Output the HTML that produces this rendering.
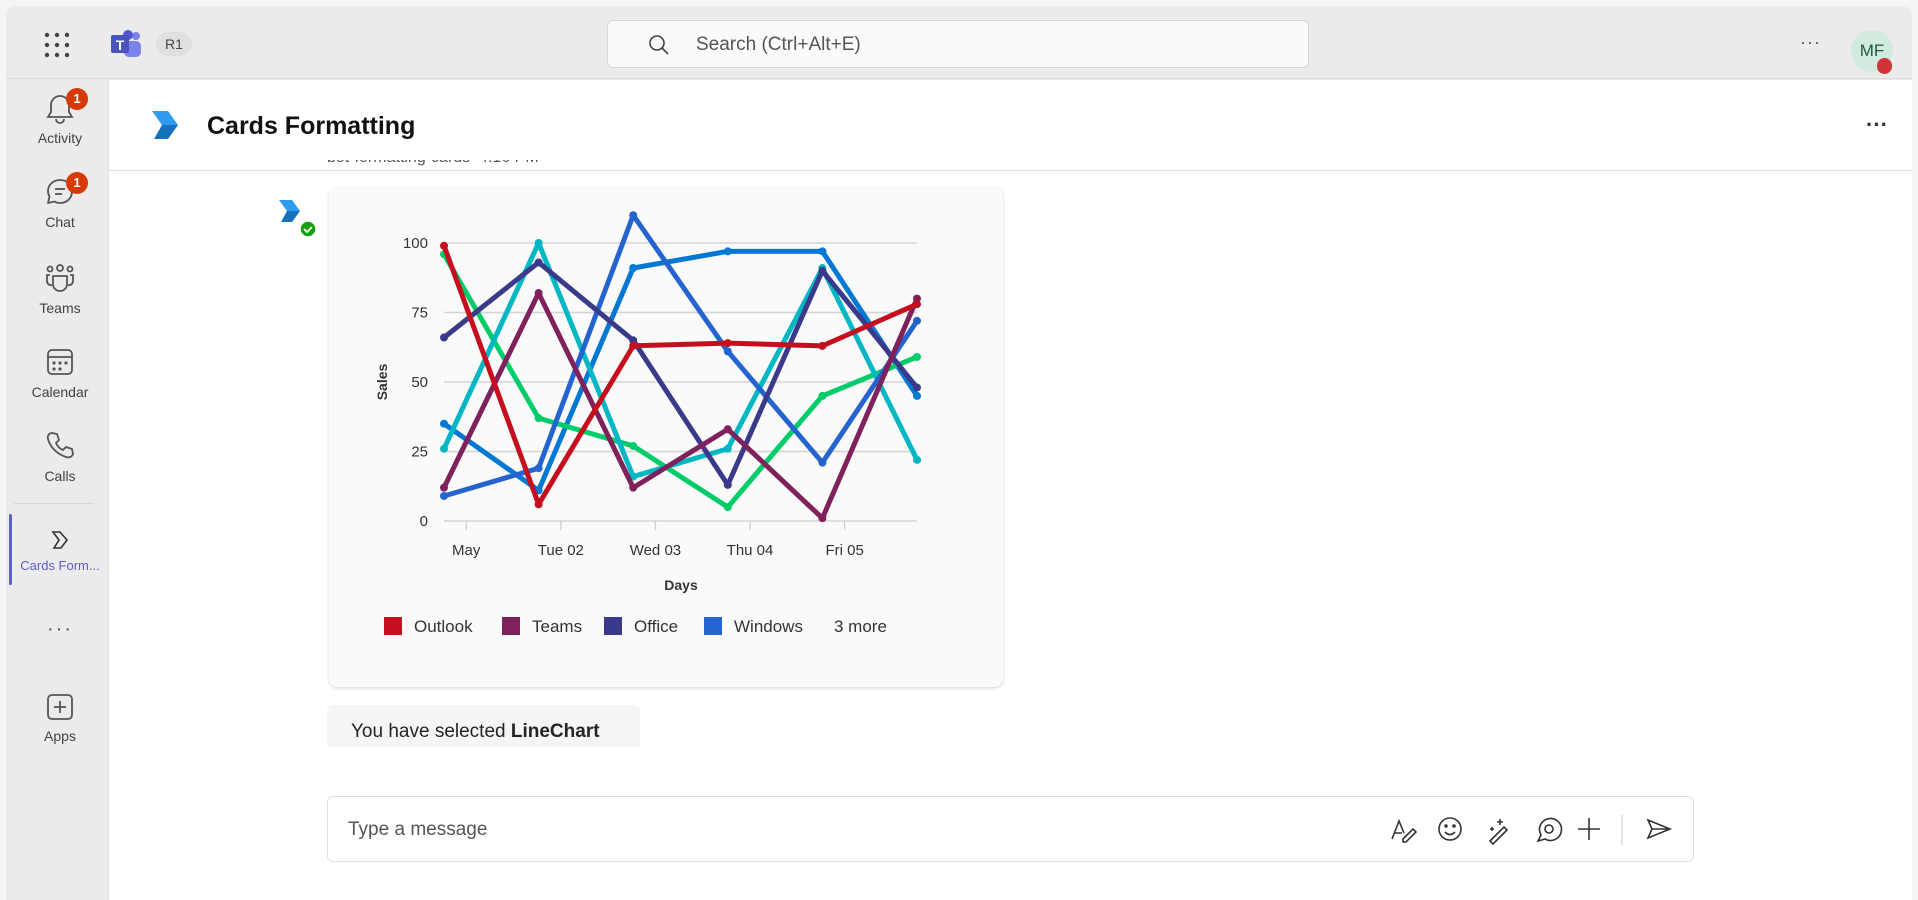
<!DOCTYPE html>
<html><head><meta charset="utf-8">
<style>
*{box-sizing:border-box;margin:0;padding:0}
body{width:1918px;height:900px;background:#f5f5f5;font-family:"Liberation Sans",sans-serif;position:relative;overflow:hidden;color:#242424}
.abs{position:absolute}
.rail-item{position:absolute;left:0;width:108px;text-align:center;font-size:14px;color:#424242}
.rail-item svg{display:block;margin:0 auto 6px}
.badge{position:absolute;left:60px;top:-4px;width:22px;height:22px;border-radius:11px;background:#d83b01;color:#fff;font-size:13px;font-weight:bold;line-height:22px;text-align:center}
</style></head><body>
<div class="abs" style="left:6px;top:6px;width:1906px;height:894px;background:#ebebeb;border-radius:10px 10px 0 0"></div>
<div class="abs" style="left:6px;top:6px;width:1906px;height:73px;border-bottom:1px solid #dcdcdc"></div>
<div class="abs" style="left:44px;top:32px;width:26px;height:26px">
<svg width="26" height="26"><g fill="#444"><circle cx="3" cy="3" r="2.2"/><circle cx="13" cy="3" r="2.2"/><circle cx="23" cy="3" r="2.2"/><circle cx="3" cy="13" r="2.2"/><circle cx="13" cy="13" r="2.2"/><circle cx="23" cy="13" r="2.2"/><circle cx="3" cy="23" r="2.2"/><circle cx="13" cy="23" r="2.2"/><circle cx="23" cy="23" r="2.2"/></g></svg></div>
<div class="abs" style="left:110px;top:30px;width:32px;height:30px">
<svg width="32" height="30"><circle cx="26" cy="6" r="4" fill="#7b83eb"/><rect x="14" y="11" width="17" height="16" rx="5" fill="#7b83eb"/><circle cx="18" cy="5" r="5" fill="#5059c9"/><rect x="1" y="5" width="18" height="18" rx="2" fill="#4b53bc"/><text x="10" y="20" fill="#fff" font-size="14" font-weight="bold" text-anchor="middle" font-family="Liberation Sans">T</text></svg></div>
<div class="abs" style="left:156px;top:32px;width:36px;height:24px;border-radius:12px;background:#e0e0e0;font-size:14px;line-height:24px;text-align:center;color:#424242">R1</div>
<div class="abs" style="left:607px;top:20px;width:702px;height:48px;background:#fafafa;border:1px solid #d6d6d6;border-radius:6px">
<svg class="abs" style="left:40px;top:13px" width="22" height="22"><circle cx="9" cy="9" r="7" fill="none" stroke="#424242" stroke-width="1.6"/><line x1="14" y1="14" x2="20" y2="20" stroke="#424242" stroke-width="1.6"/></svg>
<span class="abs" style="left:88px;top:13px;font-size:19px;color:#555">Search (Ctrl+Alt+E)</span></div>
<div class="abs" style="left:1800px;top:32px;font-size:18px;color:#555;letter-spacing:1px">···</div>
<div class="abs" style="left:1851px;top:30px;width:42px;height:42px;border-radius:21px;background:#d1ecdf;color:#1e5a3c;font-size:17px;line-height:42px;text-align:center">MF</div>
<div class="abs" style="left:1877px;top:58px;width:15px;height:16px;border-radius:8px;background:#d13438"></div>

<div class="rail-item" style="left:6px;top:92px"><svg width="30" height="32"><path d="M15 4a9 9 0 0 0-9 9v7l-3 5h24l-3-5v-7a9 9 0 0 0-9-9zM11 27a4 4 0 0 0 8 0" fill="none" stroke="#555" stroke-width="1.8"/></svg>Activity<div class="badge">1</div></div>
<div class="rail-item" style="left:6px;top:176px"><svg width="32" height="32"><path d="M16 4C9 4 4 9 4 15c0 2 .5 4 1.5 5.5L4 27l6.5-1.5C12 26.5 14 27 16 27c7 0 12-5 12-11.5S23 4 16 4z" fill="none" stroke="#555" stroke-width="1.8" stroke-linejoin="round"/><line x1="11" y1="13" x2="21" y2="13" stroke="#555" stroke-width="1.8"/><line x1="11" y1="18" x2="18" y2="18" stroke="#555" stroke-width="1.8"/></svg>Chat<div class="badge">1</div></div>
<div class="rail-item" style="left:6px;top:262px"><svg width="32" height="32"><g fill="none" stroke="#555" stroke-width="1.8"><circle cx="16" cy="6" r="3"/><circle cx="6" cy="7" r="2.5"/><circle cx="26" cy="7" r="2.5"/><path d="M9 14h14v8a7 7 0 0 1-14 0z"/><path d="M6 13h-3v6a4 4 0 0 0 5 4M26 13h3v6a4 4 0 0 1-5 4"/></g></svg>Teams</div>
<div class="rail-item" style="left:6px;top:346px"><svg width="32" height="32"><rect x="4" y="4" width="24" height="24" rx="4" fill="none" stroke="#555" stroke-width="1.8"/><line x1="4" y1="11" x2="28" y2="11" stroke="#555" stroke-width="1.8"/><g fill="#555"><circle cx="10" cy="17" r="1.6"/><circle cx="16" cy="17" r="1.6"/><circle cx="22" cy="17" r="1.6"/><circle cx="10" cy="23" r="1.6"/><circle cx="16" cy="23" r="1.6"/></g></svg>Calendar</div>
<div class="rail-item" style="left:6px;top:430px"><svg width="32" height="32"><path d="M8 3l5 1 2 6-3 3c1 3 4 6 7 7l3-3 6 2 1 5c-1 3-4 4-7 3C13 24 6 17 4 9 3 6 5 3 8 3z" fill="none" stroke="#555" stroke-width="1.8"/></svg>Calls</div>
<div class="abs" style="left:14px;top:503px;width:80px;height:1px;background:#d6d6d6"></div>
<div class="abs" style="left:9px;top:514px;width:3px;height:71px;background:#5b5fc7;border-radius:2px"></div>
<div class="rail-item" style="left:6px;top:528px;color:#5b5fc7;font-size:13px"><svg width="24" height="24"><path d="M5 4h7l7 8-6 8H6l5-8z" fill="none" stroke="#333" stroke-width="1.6"/></svg>Cards Form...</div>
<div class="rail-item" style="left:6px;top:618px;font-size:20px;letter-spacing:2px;color:#555">···</div>
<div class="rail-item" style="left:6px;top:692px"><svg width="30" height="30"><rect x="3" y="3" width="24" height="24" rx="4" fill="none" stroke="#555" stroke-width="1.8"/><line x1="15" y1="9" x2="15" y2="21" stroke="#555" stroke-width="1.8"/><line x1="9" y1="15" x2="21" y2="15" stroke="#555" stroke-width="1.8"/></svg>Apps</div>

<div class="abs" style="left:108px;top:80px;width:1804px;height:820px;background:#fff;border-left:1px solid #e0e0e0"></div>
<div class="abs" style="left:108px;top:80px;width:1804px;height:91px;border-bottom:1px solid #e0e0e0"></div>
<svg class="abs" style="left:151px;top:111px" width="28" height="28"><path d="M1 0h16l10 14H11z" fill="#2e9bf0"/><path d="M11 14h16l-10 14H3z" fill="#1570c0"/></svg>
<div class="abs" style="left:207px;top:112px;font-size:25px;font-weight:bold;color:#111">Cards Formatting</div>
<div class="abs" style="left:1866px;top:112px;font-size:22px;font-weight:bold;color:#333">···</div>

<div class="abs" style="left:327px;top:160px;font-size:16px;color:#555;height:12px;overflow:hidden;line-height:28px"><span style="position:relative;top:-16px">bot-formatting-cards&nbsp;&nbsp;4:16 PM</span></div>
<svg class="abs" style="left:279px;top:200px" width="38" height="38"><path d="M0 0h13l8 11H8z" fill="#2e9bf0"/><path d="M8 11h13l-8 11H2z" fill="#1570c0"/><circle cx="29" cy="29" r="8" fill="#13a10e" stroke="#fff" stroke-width="1.5"/><path d="M25 29l3 3 5-5" fill="none" stroke="#fff" stroke-width="1.8"/></svg>

<div class="abs" style="left:329px;top:188px;width:674px;height:499px;background:#fafafa;border-radius:8px;box-shadow:0 1px 3px rgba(0,0,0,.18)"></div>
<svg class="abs" id="chart" style="left:0;top:0" width="1918" height="900" font-family="Liberation Sans"></svg>

<div class="abs" style="left:384px;top:616px;height:22px;font-size:17px;color:#333;line-height:22px;white-space:nowrap">
<span style="position:absolute;left:0"><i style="display:inline-block;width:18px;height:18px;background:#c50f1f;vertical-align:-3px;margin-right:12px"></i>Outlook</span>
<span style="position:absolute;left:118px"><i style="display:inline-block;width:18px;height:18px;background:#7f215b;vertical-align:-3px;margin-right:12px"></i>Teams</span>
<span style="position:absolute;left:220px"><i style="display:inline-block;width:18px;height:18px;background:#3b3a8a;vertical-align:-3px;margin-right:12px"></i>Office</span>
<span style="position:absolute;left:320px"><i style="display:inline-block;width:18px;height:18px;background:#2564cf;vertical-align:-3px;margin-right:12px"></i>Windows</span>
<span style="position:absolute;left:450px">3 more</span>
</div>

<div class="abs" style="left:327px;top:705px;width:313px;height:42px;background:#f5f5f5;border-radius:6px 6px 0 0;font-size:19px;padding:16px 0 0 24px;color:#242424">You have selected <b>LineChart</b></div>

<div class="abs" style="left:327px;top:796px;width:1367px;height:66px;border:1px solid #e0e0e0;border-radius:6px;background:#fff">
<span class="abs" style="left:20px;top:22px;font-size:19px;color:#555">Type a message</span>
<svg class="abs" style="left:1060px;top:18px" width="300" height="30"><g fill="none" stroke="#333" stroke-width="1.6"><path d="M4 24l7-18 5 12M6 18h8M15 24l10-10 3 3-10 10h-3z"/><circle cx="62" cy="14" r="11"/><circle cx="58" cy="11" r="1"/><circle cx="66" cy="11" r="1"/><path d="M57 17q5 5 10 0"/><path d="M102 26l14-14 3 3-14 14zM112 4v6M109 7h6M104 12v4M102 14h4"/><path d="M150 26l3-6a11 11 0 1 1 4 4z"/><circle cx="161" cy="14" r="4"/><line x1="201" y1="3" x2="201" y2="25"/><line x1="190" y1="14" x2="212" y2="14"/><line x1="234" y1="0" x2="234" y2="30" stroke="#ddd"/><path d="M260 5l22 9-22 9 4-9z M264 14h18"/></g></svg>
</div>

<script>
const categories = ["May 01","Tue 02","Wed 03","Thu 04","Fri 05","Sat 06"];
const tickLabels = ["May","Tue 02","Wed 03","Thu 04","Fri 05"];
const yTicks = [0,25,50,75,100];
const outlook = [99,6,63,64,63,78];
const teams = [12,82,12,33,1,80];
const office = [66,93,65,13,90,48];
const windows = [9,19,110,61,21,72];
const teal = [26,100,16,26,91,22];
const green = [96,37,27,5,45,59];
const blue = [35,11,91,97,97,45];

const svg = document.getElementById('chart');
const NS = 'http://www.w3.org/2000/svg';
const X0 = 444, X1 = 917, Y0 = 521, Y100 = 243;
const step = (X1 - X0) / (categories.length - 1);
function xs(i){ return X0 + i * step; }
function ys(v){ return Y0 - (Y0 - Y100) * v / 100; }
function mk(tag, attrs){ const e = document.createElementNS(NS, tag); for (const k in attrs) e.setAttribute(k, attrs[k]); svg.appendChild(e); return e; }

yTicks.forEach(t => {
  const g = mk('line', {x1: X0, x2: X1, y1: ys(t), y2: ys(t), stroke: '#d4d4d4', 'stroke-width': 1.5});
  
  
  const l = mk('text', {x: 428, y: ys(t) + 5, 'text-anchor': 'end', 'font-size': 15, fill: '#333'});
  
  
  l.textContent = t;
});
tickLabels.forEach((t, i) => {
  const x = xs(i) + step * 0.235;
  const tk = mk('line', {x1: x, x2: x, y1: Y0, y2: Y0 + 9, stroke: '#ccc', 'stroke-width': 1.2});
  
  
  const l = mk('text', {x: x, y: Y0 + 34, 'text-anchor': 'middle', 'font-size': 15, fill: '#333'});
  
  
  l.textContent = t;
});
const yt = mk('text', {x: 0, y: 0, transform: 'translate(387,382) rotate(-90)', 'text-anchor': 'middle', 'font-size': 14, 'font-weight': 'bold', fill: '#333'});


yt.textContent = 'Sales';
const xt = mk('text', {x: 681, y: 590, 'text-anchor': 'middle', 'font-size': 14, 'font-weight': 'bold', fill: '#333'});


xt.textContent = 'Days';

const series = [
  ['blue', blue, '#0078d4'],
  ['green', green, '#00cc6a'],
  ['teal', teal, '#00b7c3'],
  ['windows', windows, '#2564cf'],
  ['office', office, '#3b3a8a'],
  ['teams', teams, '#7f215b'],
  ['outlook', outlook, '#c50f1f']
];
series.forEach(([name, vals, col]) => {
  const pts = vals.map((v, i) => xs(i) + ',' + ys(v)).join(' ');
  const pl = mk('polyline', {points: pts, fill: 'none', stroke: col, 'stroke-width': 5, 'stroke-linejoin': 'round'});
  
  
  vals.forEach((v, i) => {
    const c = mk('circle', {cx: xs(i), cy: ys(v), r: 4, fill: col});
    
    
  });
});
</script>
</body></html>
